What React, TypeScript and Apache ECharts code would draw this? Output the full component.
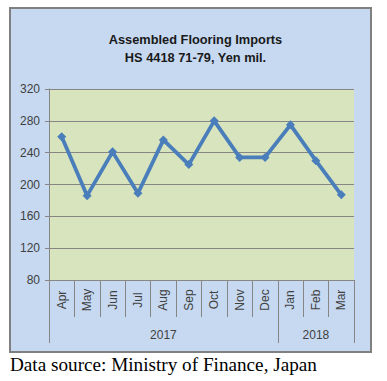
import React, { useEffect, useRef } from "react";
import * as echarts from "echarts";

const months = ["Apr", "May", "Jun", "Jul", "Aug", "Sep", "Oct", "Nov", "Dec", "Jan", "Feb", "Mar"];
const imports = [260, 186, 241, 189, 256, 225, 280, 234, 234, 275, 230, 187];
const yearLabels = ["2017", "2018"];
const yearCenters = [4.5, 10.5];
const yearBounds = [0, 9, 12];
const titleLines = ["Assembled Flooring Imports", "HS 4418 71-79, Yen mil."];
const sourceNote = "Data source: Ministry of Finance, Japan";

const LABEL_FONT = "'Liberation Sans Narrow', 'Arial Narrow', 'Liberation Sans', sans-serif";

export default function App() {
  const ref = useRef<HTMLDivElement>(null);
  useEffect(() => {
    if (!ref.current) return;
    const chart = echarts.init(ref.current, null, { renderer: "svg" });
    chart.setOption({
      animation: false,
      backgroundColor: "#ffffff",
      title: {
        text: titleLines.join("\n"),
        left: 190.5,
        top: 25,
        textAlign: "center",
        textStyle: {
          fontFamily: LABEL_FONT,
          fontSize: 12.8,
          fontWeight: "bold",
          color: "#1a1a1a",
          lineHeight: 18.5,
        },
      },
      graphic: [
        {
          type: "rect",
          z: -10,
          shape: { x: 10, y: 8, width: 361, height: 344 },
          style: { fill: "#c6d9f1", stroke: "#808080", lineWidth: 2 },
        },
        {
          type: "text",
          left: 10,
          top: 355,
          style: {
            text: sourceNote,
            fontFamily: "'Liberation Serif', 'Times New Roman', serif",
            fontSize: 19.2,
            fill: "#000000",
          },
        },
      ],
      grid: {
        left: 49,
        top: 89,
        right: 33,
        bottom: 101,
        show: true,
        backgroundColor: "#d7e4bd",
        borderWidth: 0,
      },
      xAxis: [
        {
          type: "category",
          data: months,
          boundaryGap: true,
          axisLine: { show: true, lineStyle: { color: "#868686", width: 1 } },
          axisTick: { show: true, interval: 0, length: 37, lineStyle: { color: "#868686" } },
          axisLabel: {
            interval: 0,
            rotate: 90,
            align: "center",
            verticalAlign: "middle",
            margin: 20,
            fontFamily: LABEL_FONT,
            fontSize: 12,
            color: "#404040",
          },
          splitLine: { show: false },
        },
        {
          type: "value",
          position: "bottom",
          min: 0,
          max: 12,
          axisLine: { show: false },
          splitLine: { show: false },
          axisTick: {
            show: true,
            customValues: yearBounds,
            length: 63,
            lineStyle: { color: "#868686" },
          },
          axisLabel: {
            show: true,
            customValues: yearCenters,
            formatter: (v: number) => yearLabels[yearCenters.indexOf(v)] ?? "",
            margin: 49,
            fontFamily: LABEL_FONT,
            fontSize: 12,
            color: "#404040",
          },
        },
      ],
      yAxis: {
        type: "value",
        min: 80,
        max: 320,
        interval: 40,
        axisLine: { show: true, lineStyle: { color: "#868686" } },
        axisTick: { show: true, length: 4, lineStyle: { color: "#868686" } },
        axisLabel: {
          margin: 9,
          fontFamily: LABEL_FONT,
          fontSize: 12,
          color: "#404040",
        },
        splitLine: { show: true, lineStyle: { color: "#868686", width: 1 } },
      },
      series: [
        {
          type: "line",
          data: imports,
          xAxisIndex: 0,
          yAxisIndex: 0,
          symbol: "diamond",
          symbolSize: 9,
          lineStyle: { color: "#4a7ebb", width: 3.8 },
          itemStyle: { color: "#4a7ebb" },
        },
      ],
    });
    return () => chart.dispose();
  }, []);
  return (
    <div
      ref={ref}
      style={{ position: "fixed", left: 0, top: 0, width: 387, height: 381 }}
    />
  );
}
